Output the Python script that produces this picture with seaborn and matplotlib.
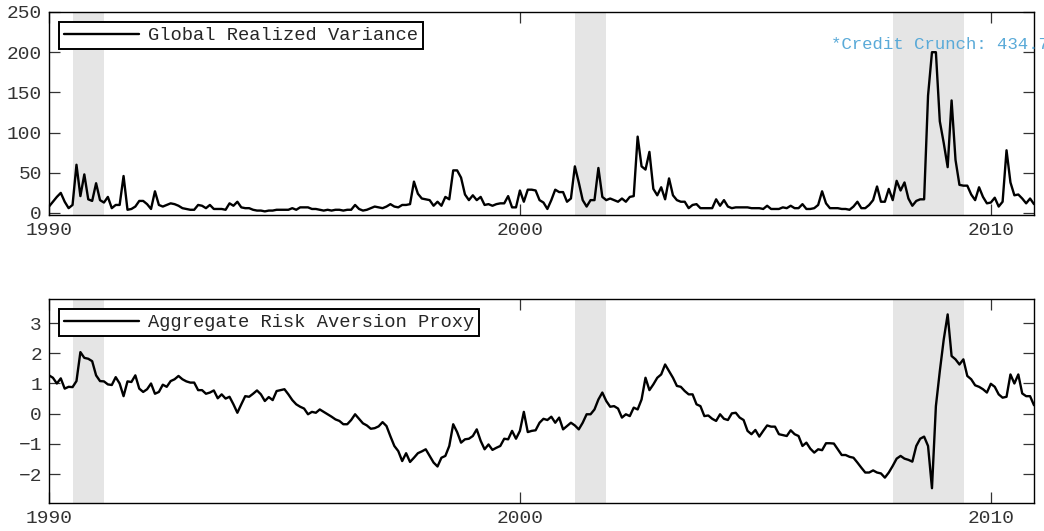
import numpy as np
import pandas as pd
import matplotlib
matplotlib.use("Agg")
import matplotlib.pyplot as plt
import seaborn as sns

# ---------------- data (monthly, Jan 1990 - Dec 2010) ----------------
start_year = 1990
rv_1990 = [8, 14, 20, 25, 14, 6, 10, 60, 21, 48, 17, 15]
rv_1991 = [37, 16, 13, 20, 6, 10, 10, 46, 4, 5, 8, 15]
rv_1992 = [15, 11, 5, 27, 10, 8, 10, 12, 11, 9, 6, 5]
rv_1993 = [4, 4, 10, 9, 6, 10, 5, 5, 5, 4, 12, 9]
rv_1994 = [14, 7, 6, 6, 4, 3, 3, 2, 3, 3, 4, 4]
rv_1995 = [4, 4, 6, 4, 7, 7, 7, 5, 5, 4, 3, 4]
rv_1996 = [3, 4, 4, 3, 4, 4, 10, 5, 3, 4, 6, 8]
rv_1997 = [7, 6, 8, 11, 8, 7, 10, 10, 11, 39, 24, 18]
rv_1998 = [17, 16, 9, 14, 9, 20, 17, 53, 53, 44, 23, 16]
rv_1999 = [22, 16, 20, 10, 11, 9, 11, 12, 12, 21, 7, 7]
rv_2000 = [28, 14, 29, 29, 28, 16, 13, 5, 16, 29, 26, 26]
rv_2001 = [14, 18, 58, 38, 16, 8, 16, 16, 56, 20, 16, 18]
rv_2002 = [16, 14, 18, 14, 20, 21, 95, 58, 54, 76, 30, 22]
rv_2003 = [32, 17, 43, 22, 16, 14, 14, 6, 10, 11, 6, 6]
rv_2004 = [6, 6, 17, 9, 16, 8, 6, 7, 7, 7, 7, 6]
rv_2005 = [6, 6, 5, 9, 5, 5, 5, 7, 6, 9, 6, 6]
rv_2006 = [11, 5, 5, 6, 10, 27, 12, 6, 6, 6, 5, 5]
rv_2007 = [4, 8, 14, 6, 6, 10, 16, 33, 14, 14, 30, 16]
rv_2008 = [40, 28, 38, 18, 9, 15, 17, 17, 146, 434.7, 260, 114]
rv_2009 = [87, 57, 140, 66, 35, 34, 34, 23, 16, 32, 20, 12]
rv_2010 = [13, 19, 8, 14, 78, 38, 22, 23, 18, 12, 18, 11]

ara_1990 = [1.27, 1.19, 1.0, 1.17, 0.83, 0.89, 0.88, 1.08, 2.04, 1.85, 1.82, 1.74]
ara_1991 = [1.27, 1.08, 1.07, 0.97, 0.95, 1.21, 1.0, 0.58, 1.07, 1.05, 1.27, 0.83]
ara_1992 = [0.72, 0.81, 1.0, 0.66, 0.72, 0.96, 0.89, 1.08, 1.14, 1.25, 1.14, 1.07]
ara_1993 = [1.03, 1.03, 0.78, 0.78, 0.66, 0.70, 0.77, 0.51, 0.64, 0.50, 0.56, 0.31]
ara_1994 = [0.03, 0.31, 0.58, 0.56, 0.66, 0.77, 0.64, 0.42, 0.55, 0.45, 0.75, 0.78]
ara_1995 = [0.81, 0.64, 0.45, 0.31, 0.23, 0.17, -0.02, 0.06, 0.03, 0.14, 0.06, -0.02]
ara_1996 = [-0.10, -0.19, -0.24, -0.35, -0.35, -0.21, -0.02, -0.17, -0.32, -0.39, -0.50, -0.48]
ara_1997 = [-0.42, -0.28, -0.41, -0.75, -1.07, -1.24, -1.57, -1.31, -1.60, -1.46, -1.31, -1.25]
ara_1998 = [-1.18, -1.40, -1.62, -1.75, -1.46, -1.40, -1.07, -0.35, -0.61, -0.96, -0.85, -0.83]
ara_1999 = [-0.74, -0.52, -0.90, -1.18, -1.02, -1.20, -1.13, -1.07, -0.83, -0.85, -0.57, -0.83]
ara_2000 = [-0.57, 0.06, -0.61, -0.57, -0.55, -0.30, -0.17, -0.21, -0.10, -0.30, -0.13, -0.52]
ara_2001 = [-0.41, -0.30, -0.39, -0.52, -0.30, -0.02, -0.02, 0.14, 0.47, 0.70, 0.42, 0.23]
ara_2002 = [0.25, 0.17, -0.13, -0.02, -0.08, 0.20, 0.14, 0.47, 1.19, 0.78, 0.97, 1.19]
ara_2003 = [1.30, 1.63, 1.41, 1.19, 0.92, 0.89, 0.75, 0.64, 0.64, 0.31, 0.25, -0.08]
ara_2004 = [-0.06, -0.17, -0.24, -0.02, -0.17, -0.21, 0.01, 0.03, -0.13, -0.21, -0.57, -0.68]
ara_2005 = [-0.54, -0.76, -0.57, -0.39, -0.43, -0.43, -0.68, -0.71, -0.74, -0.55, -0.68, -0.74]
ara_2006 = [-1.07, -0.96, -1.16, -1.29, -1.18, -1.21, -0.98, -0.98, -0.99, -1.18, -1.37, -1.37]
ara_2007 = [-1.43, -1.46, -1.62, -1.79, -1.95, -1.95, -1.88, -1.95, -1.98, -2.12, -1.95, -1.73]
ara_2008 = [-1.49, -1.40, -1.49, -1.53, -1.59, -1.07, -0.83, -0.76, -1.07, -2.47, 0.25, 1.41]
ara_2009 = [2.46, 3.29, 1.91, 1.80, 1.63, 1.80, 1.25, 1.14, 0.94, 0.89, 0.81, 0.70]
ara_2010 = [0.99, 0.89, 0.64, 0.53, 0.56, 1.30, 1.00, 1.30, 0.67, 0.58, 0.58, 0.28]

rec_start = [1990.5, 2001.17, 2007.92]
rec_end = [1991.17, 2001.83, 2009.42]

rv_cap = 200
crunch_label = "*Credit Crunch: 434.7"
x_ticks = [1990, 2000, 2010]
rv_ticks = [0, 50, 100, 150, 200, 250]
ara_ticks = [-2, -1, 0, 1, 2, 3]

rv = np.concatenate([rv_1990, rv_1991, rv_1992, rv_1993, rv_1994, rv_1995, rv_1996,
                     rv_1997, rv_1998, rv_1999, rv_2000, rv_2001, rv_2002, rv_2003,
                     rv_2004, rv_2005, rv_2006, rv_2007, rv_2008, rv_2009, rv_2010])
ara = np.concatenate([ara_1990, ara_1991, ara_1992, ara_1993, ara_1994, ara_1995, ara_1996,
                      ara_1997, ara_1998, ara_1999, ara_2000, ara_2001, ara_2002, ara_2003,
                      ara_2004, ara_2005, ara_2006, ara_2007, ara_2008, ara_2009, ara_2010])
t = start_year + np.arange(len(rv)) / 12.0
df = pd.DataFrame({"t": t, "rv": np.minimum(rv, rv_cap), "ara": ara})

# ---------------- style ----------------
sns.set_style("ticks")
plt.rcParams["font.family"] = ["Liberation Mono", "DejaVu Sans"]

fig = plt.figure(figsize=(10.44, 5.31), dpi=100)
ax1 = fig.add_axes([49/1044, 1-215/531, (1034-49)/1044, (215-12)/531])
ax2 = fig.add_axes([49/1044, 1-503/531, (1034-49)/1044, (503-299)/531])

tick_col = "#333333"
for ax, col, lab in [(ax1, "rv", "Global Realized Variance"),
                     (ax2, "ara", "Aggregate Risk Aversion Proxy")]:
    for s, e in zip(rec_start, rec_end):
        ax.axvspan(s, e, color="#e5e5e5", lw=0, zorder=0)
    sns.lineplot(data=df, x="t", y=col, ax=ax, color="black", lw=1.7,
                 label=lab, zorder=3)
    ax.set_xlim(t[0], t[-1])
    ax.set_xticks(x_ticks)
    ax.set_xlabel("")
    ax.set_ylabel("")
    ax.tick_params(direction="in", length=8, width=0.9, top=True, right=True,
                   labelsize=14, labelcolor=tick_col, color="#333333", pad=5)
    for sp in ax.spines.values():
        sp.set_color("black")
        sp.set_linewidth(1.0)
    leg = ax.legend(loc="upper left", fontsize=13.5, frameon=True, fancybox=False,
                    handlelength=4.0, handletextpad=0.5, borderpad=0.25,
                    borderaxespad=0.55)
    leg.get_frame().set_edgecolor("black")
    leg.get_frame().set_linewidth(1.4)
    leg.get_frame().set_alpha(1)
    for ln in leg.get_lines():
        ln.set_linewidth(1.7)

ax1.set_ylim(-2.5, 250)
ax1.set_yticks(rv_ticks)
ax2.set_ylim(-2.96, 3.8)
ax2.set_yticks(ara_ticks)
ax2.set_yticklabels(["\u22122", "\u22121", "0", "1", "2", "3"])

ax1.text(2006.6, 210, crunch_label, color="#5aaad8", fontsize=12.5,
         ha="left", va="center", clip_on=False, zorder=5)

fig.savefig("out.png", dpi=100)
